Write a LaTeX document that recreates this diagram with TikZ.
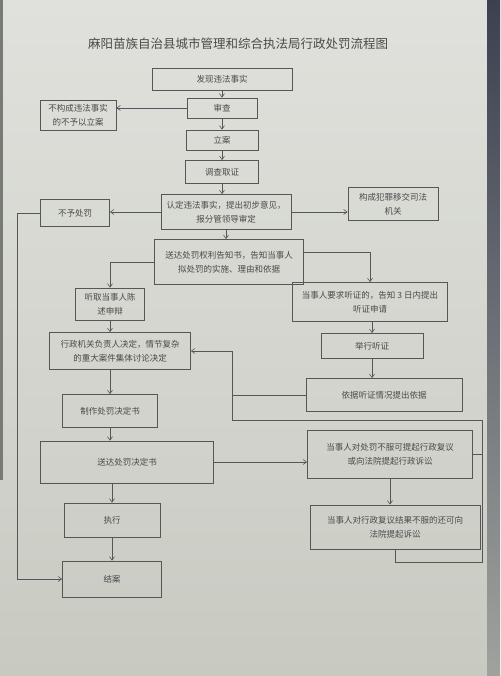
\documentclass[tikz,border=0pt]{standalone}
\usepackage{fontspec}
\setmainfont{Noto Sans CJK SC}
\usetikzlibrary{arrows.meta}
\definecolor{ink}{HTML}{565656}
\definecolor{txt}{HTML}{4A4A4A}
\definecolor{papertop}{RGB}{224,225,220}
\definecolor{paperbot}{RGB}{200,202,194}
\definecolor{desktop}{RGB}{60,64,80}
\definecolor{deskbot}{RGB}{160,162,158}
\definecolor{leftedge}{RGB}{120,122,120}
\begin{document}
\begin{tikzpicture}[x=1pt,y=-1pt,
  box/.style={draw=ink,line width=0.8pt,align=center,inner sep=1pt,text=txt,
    font=\fontsize{8.5}{14}\selectfont},
  link/.style={draw=ink,line width=0.6pt},
  arr/.style={link,-{Straight Barb[length=3.5pt,width=5pt]}}]
\useasboundingbox (0,0) rectangle (500,676);
\shade[top color=papertop, bottom color=paperbot] (0,0) rectangle (500,676);
\shade[top color=desktop, bottom color=deskbot] (487,0) rectangle (500,676);
\fill[leftedge] (0,0) rectangle (3,480);

\node[text=txt,font=\fontsize{12.5}{15}\selectfont] (title) at (238,44)
  {麻阳苗族自治县城市管理和综合执法局行政处罚流程图};

\node[box,minimum width=140,minimum height=22] (find) at (222,79) {发现违法事实};
\node[box,minimum width=70,minimum height=20] (review) at (222,108) {审查};
\node[box,minimum width=76,minimum height=30] (nocase) at (78,115) {不构成违法事实\\的不予以立案};
\node[box,minimum width=72,minimum height=20] (file) at (222,140) {立案};
\node[box,minimum width=73,minimum height=23] (invest) at (222,172) {调查取证};
\node[box,minimum width=130,minimum height=35] (confirm) at (226,212) {认定违法事实，提出初步意见，\\报分管领导审定};
\node[box,minimum width=69,minimum height=27] (nopen) at (75,213) {不予处罚};
\node[box,minimum width=90,minimum height=33] (crime) at (393,204) {构成犯罪移交司法\\机关};
\node[box,minimum width=149,minimum height=45] (notify) at (229,262) {送达处罚权利告知书，告知当事人\\拟处罚的实施、理由和依据};
\node[box,minimum width=69,minimum height=32] (hear) at (110,304) {听取当事人陈\\述申辩};
\node[box,minimum width=155,minimum height=39] (hreq) at (370,302) {当事人要求听证的，告知 3 日内提出\\听证申请};
\node[box,minimum width=141,minimum height=37] (decide) at (120,351) {行政机关负责人决定，情节复杂\\的重大案件集体讨论决定};
\node[box,minimum width=102,minimum height=25] (hold) at (372,346) {举行听证};
\node[box,minimum width=156,minimum height=33] (basis) at (384,395) {依据听证情况提出依据};
\node[box,minimum width=95,minimum height=33] (make) at (110,411) {制作处罚决定书};
\node[box,minimum width=173,minimum height=42] (deliver) at (127,462) {送达处罚决定书};
\node[box,minimum width=165,minimum height=48] (recon) at (390,454) {当事人对处罚不服可提起行政复议\\或向法院提起行政诉讼};
\node[box,minimum width=96,minimum height=34] (exec) at (112,520) {执行};
\node[box,minimum width=170,minimum height=44] (sue) at (395,527) {当事人对行政复议结果不服的还可向\\法院提起诉讼};
\node[box,minimum width=99,minimum height=36] (close) at (112,579) {结案};

\coordinate (lb) at (17,0);
\coordinate (lx) at (232,420);
\coordinate (rx) at (482,420);
\coordinate (bot) at (0,562);

\draw[arr] (find) -- (review);
\draw[arr] (review.west) -- (review.west -| nocase.east);
\draw[arr] (review) -- (file);
\draw[arr] (file) -- (invest);
\draw[arr] (invest.south) -- (invest.south |- confirm.north);
\draw[arr] (confirm.west) -- (confirm.west -| nopen.east);
\draw[arr] (confirm.east) -- (confirm.east -| crime.west);
\draw[arr] (confirm.south) -- (confirm.south |- notify.north);
\draw[arr] (notify.west) -| (hear.north);
\draw[arr] ([yshift=10pt]notify.east) -| (hreq.north);
\draw[arr] (hear.south) -- (hear.south |- decide.north);
\draw[arr] (hold.north |- hreq.south) -- (hold.north);
\draw[arr] (hold.south) -- (hold.south |- basis.north);
\draw[arr] (make.north |- decide.south) -- (make.north);
\draw[arr] (make.south) -- (make.south |- deliver.north);
\draw[arr] (deliver.east) -- (deliver.east -| recon.west);
\draw[arr] (exec.north |- deliver.south) -- (exec.north);
\draw[arr] (exec.south) -- (exec.south |- close.north);
\draw[arr] (recon.south) -- (recon.south |- sue.north);
\draw[arr] (nopen.west) -- (nopen.west -| lb) |- (close.west);
\draw[arr] (sue.south) -- (sue.south |- bot) -| (rx) -- (lx) |- (decide.east);
\draw[link] (recon.east) -- (recon.east -| rx);
\draw[link] (basis.west) -- (basis.west -| lx);
\end{tikzpicture}
\end{document}
